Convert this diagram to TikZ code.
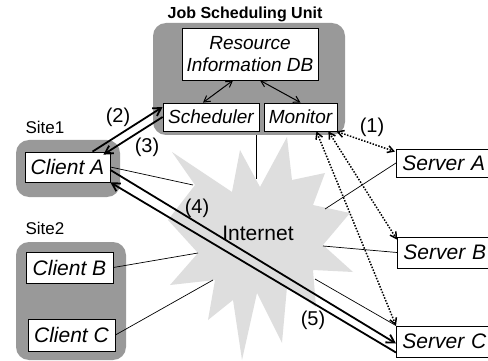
\documentclass[tikz,border=0pt]{standalone}
\usepackage{fontspec}
\setmainfont{Liberation Sans}
\usetikzlibrary{arrows.meta}
\definecolor{unitgray}{gray}{0.6}
\definecolor{cloudgray}{gray}{0.87}
\tikzset{
  group/.style={fill=unitgray, rounded corners=13pt, inner sep=0pt},
  box/.style={draw, fill=white, line width=0.8pt, inner sep=0pt,
    font=\fontsize{21}{24}\selectfont\itshape},
  jsubox/.style={box, font=\fontsize{19}{22}\selectfont\itshape},
  server/.style={box, anchor=west, inner xsep=6pt, text width=90pt, align=left},
  title/.style={font=\fontsize{17}{20}\selectfont},
  num/.style={font=\fontsize{20}{22}\selectfont},
  link/.style={line width=0.7pt},
  dbarrow/.style={line width=1pt, {Straight Barb[angle=60:7pt]}-{Straight Barb[angle=60:7pt]}},
  probe/.style={line width=1.5pt, dash pattern=on 1.5pt off 1.5pt,
    {Straight Barb[angle=60:7pt]}-{Straight Barb[angle=60:7pt]}},
  msg/.style={line width=1.8pt, -{Straight Barb[angle=60:9pt]}}
}

\begin{document}
\begin{tikzpicture}[x=1pt, y=-1pt]
  \useasboundingbox (0,0) rectangle (488,361);
  % the Internet cloud
  \fill[cloudgray] (172,152) -- (232,192) -- (240,150) -- (260,187) -- (287,137)
    -- (292,180) -- (325,173) -- (313,205) -- (350,213) -- (323,245) -- (353,272)
    -- (313,270) -- (316,307) -- (287,287) -- (282,343) -- (257,293) -- (242,360)
    -- (233,300) -- (208,320) -- (215,280) -- (170,285) -- (198,253) -- (168,220)
    -- (195,185) -- cycle;
  \node[font=\fontsize{21}{24}\selectfont] (net) at (258,233) {Internet};

  % grey groups
  \node[group, minimum width=192pt, minimum height=112pt] (jsu) at (249,79) {};
  \node[group, minimum width=104pt, minimum height=57pt] (site1) at (68,168.5) {};
  \node[group, minimum width=110pt, minimum height=118pt] (site2) at (71,301) {};
  \node[font=\bfseries\fontsize{16}{18}\selectfont] (jsutitle) at (245,14) {Job Scheduling Unit};
  \node[title] (site1title) at (45,127) {Site1};
  \node[title] (site2title) at (45,228) {Site2};

  % boxes
  \node[jsubox, minimum width=136pt, minimum height=52pt, align=center] (db) at (250,54) {Resource\\Information DB};
  \node[jsubox, minimum width=96pt, minimum height=28pt] (sched) at (211,117) {Scheduler};
  \node[jsubox, minimum width=73pt, minimum height=28pt] (mon) at (300.5,117) {Monitor};
  \node[box, minimum width=85pt, minimum height=30pt] (cA) at (67.5,167) {Client A};
  \node[box, minimum width=87pt, minimum height=31pt] (cB) at (69.5,267.5) {Client B};
  \node[box, minimum width=87pt, minimum height=32pt] (cC) at (71.5,335) {Client C};
  \node[server, minimum height=28pt] (sA) at (396,163) {Server A};
  \node[server, minimum height=31pt] (sB) at (397,252.5) {Server B};
  \node[server, minimum height=31pt] (sC) at (396,341.5) {Server C};

  % links into the cloud
  \coordinate (ecA) at (193,185);
  \coordinate (ejsu) at (256,179);
  \coordinate (ecB) at (198,253);
  \coordinate (ecC) at (213,280);
  \coordinate (esA) at (325,209);
  \coordinate (esB) at (323,246);
  \coordinate (esC) at (315,279);
  \draw[link] (cA.east) -- (ecA);
  \draw[link] (jsu.south -| ejsu) -- (ejsu);
  \draw[link] (cB.east) -- (ecB);
  \draw[link] (cC.east) -- (ecC);
  \draw[link] (sA.west) -- (esA);
  \draw[link] (sB.west) -- (esB);
  \draw[link] (sC.north west) -- (esC);

  % inside the unit
  \draw[dbarrow] ([xshift=-17pt]db.south) -- ([xshift=-8pt]sched.north);
  \draw[dbarrow] ([xshift=10pt]db.south) -- (mon.north);

  % (1) monitoring
  \draw[probe] ([xshift=-1pt]mon.south east) -- ([xshift=-1pt,yshift=-3pt]sA.north west);
  \draw[probe] ([xshift=-9pt]mon.south east) -- ([yshift=-3pt]sB.north west);
  \draw[probe] ([xshift=-21pt]mon.south east) -- (sC.north west);
  \node[num] (n1) at (372,127) {(1)};

  % (2)-(5) job flow
  \draw[msg] ([xshift=25pt]cA.north) -- ([yshift=10pt]sched.west);
  \draw[msg] (sched.west) -- ([xshift=-7pt,yshift=-3pt]cA.north east);
  \draw[msg] ([yshift=-3pt]cA.east) -- ([yshift=-2pt]sC.west);
  \draw[msg] ([yshift=-11pt]sC.west) -- (cA.south east);
  \node[num] (n2) at (118,117) {(2)};
  \node[num] (n3) at (147,147) {(3)};
  \node[num] (n4) at (197,208) {(4)};
  \node[num] (n5) at (313,320) {(5)};
\end{tikzpicture}
\end{document}
